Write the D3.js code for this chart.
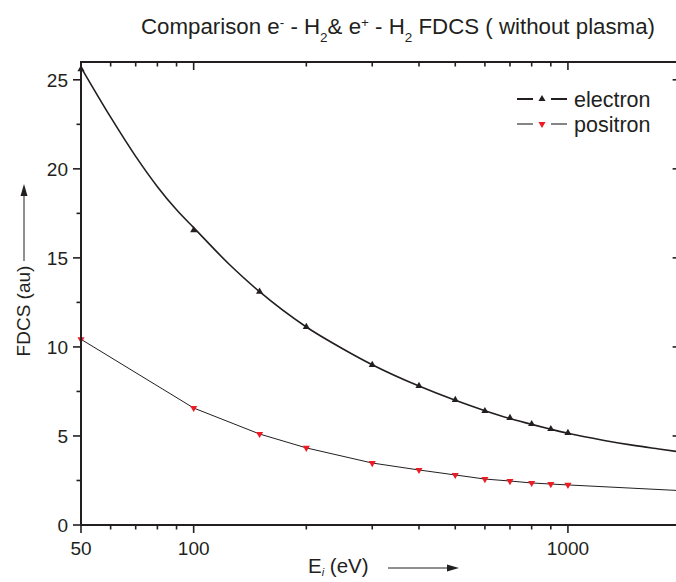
<!DOCTYPE html>
<html>
<head>
<meta charset="utf-8">
<script src="https://cdn.jsdelivr.net/npm/d3@7"></script>
<style>
  html, body { margin: 0; padding: 0; background: #fff; }
  svg { display: block; font-family: "Liberation Sans", Arial, Helvetica, sans-serif; }
</style>
</head>
<body>
<svg id="chart" width="676" height="582"></svg>
<script>
// ---- data ----
const energies = [50, 100, 150, 200, 300, 400, 500, 600, 700, 800, 900, 1000];
const electronPoints = [25.6, 16.55, 13.1, 11.12, 8.99, 7.81, 7.02, 6.40, 6.01, 5.67, 5.39, 5.17];
const positronPoints = [10.43, 6.57, 5.11, 4.33, 3.48, 3.09, 2.81, 2.58, 2.47, 2.36, 2.30, 2.25];

const electronCurveE = [50, 60, 70, 80, 90, 100, 125, 150, 200, 250, 300, 400, 500, 600, 700, 800, 900, 1000, 1250, 1500, 1750, 2000];
const electronCurveV = [25.7, 22.9, 20.7, 19.0, 17.7, 16.7, 14.6, 13.1, 11.12, 9.9, 9.0, 7.8, 7.0, 6.42, 5.98, 5.65, 5.38, 5.15, 4.75, 4.47, 4.27, 4.10];

const positronLineE = [50, 100, 150, 200, 300, 400, 500, 600, 700, 800, 900, 1000, 2000];
const positronLineV = [10.43, 6.57, 5.11, 4.33, 3.48, 3.09, 2.81, 2.58, 2.47, 2.36, 2.30, 2.25, 1.93];

const xMajorTicks = [50, 100, 1000];
const xMinorTicks = [60, 70, 80, 90, 200, 300, 400, 500, 600, 700, 800, 900, 2000];
const yMajorTicks = [0, 5, 10, 15, 20, 25];
const yMinorTicks = [2.5, 7.5, 12.5, 17.5, 22.5];

const seriesNames = ["electron", "positron"];

// ---- layout ----
const svg = d3.select("#chart");
const ink = "#231f20";
const red = "#ed1c24";
const x = d3.scaleLog().domain([50, 2000]).range([81, 680.6]);
const y = d3.scaleLinear().domain([0, 26]).range([525, 62]);
const X0 = x.range()[0], X1 = x.range()[1], Y0 = y.range()[0], Y1 = y.range()[1];

// ---- curves ----
const lineGen = d3.line().x(d => x(d[0])).y(d => y(d[1])).curve(d3.curveMonotoneX);
svg.append("path")
  .datum(electronCurveE.map((e, i) => [e, electronCurveV[i]]))
  .attr("d", lineGen).attr("fill", "none").attr("stroke", ink).attr("stroke-width", 1.6);

const polyGen = d3.line().x(d => x(d[0])).y(d => y(d[1]));
svg.append("path")
  .datum(positronLineE.map((e, i) => [e, positronLineV[i]]))
  .attr("d", polyGen).attr("fill", "none").attr("stroke", ink).attr("stroke-width", 1);

// ---- markers ----
const triUp = d3.symbol().type(d3.symbolTriangle).size(22);
svg.append("g").selectAll("path").data(energies).join("path")
  .attr("d", triUp)
  .attr("transform", (e, i) => `translate(${x(e)},${y(electronPoints[i])})`)
  .attr("fill", ink);
svg.append("g").selectAll("path").data(energies).join("path")
  .attr("d", triUp)
  .attr("transform", (e, i) => `translate(${x(e)},${y(positronPoints[i])}) rotate(180)`)
  .attr("fill", red);

// ---- axes ----
const axes = svg.append("g").attr("stroke", ink).attr("stroke-width", 2);
axes.append("rect").attr("x", X0).attr("y", Y1).attr("width", X1 - X0).attr("height", Y0 - Y1)
  .attr("fill", "none");

const tickG = svg.append("g").attr("stroke", ink).attr("stroke-width", 1.6);
xMajorTicks.forEach(t => {
  tickG.append("line").attr("x1", x(t)).attr("x2", x(t)).attr("y1", Y0).attr("y2", Y0 + 8);
  tickG.append("line").attr("x1", x(t)).attr("x2", x(t)).attr("y1", Y1).attr("y2", Y1 + 8);
});
xMinorTicks.forEach(t => {
  tickG.append("line").attr("x1", x(t)).attr("x2", x(t)).attr("y1", Y0).attr("y2", Y0 + 4.5);
  tickG.append("line").attr("x1", x(t)).attr("x2", x(t)).attr("y1", Y1).attr("y2", Y1 + 4.5);
});
yMajorTicks.forEach(t => {
  tickG.append("line").attr("x1", X0 - 8).attr("x2", X0).attr("y1", y(t)).attr("y2", y(t));
  tickG.append("line").attr("x1", X1 - 8).attr("x2", X1).attr("y1", y(t)).attr("y2", y(t));
});
yMinorTicks.forEach(t => {
  tickG.append("line").attr("x1", X0 - 4.5).attr("x2", X0).attr("y1", y(t)).attr("y2", y(t));
  tickG.append("line").attr("x1", X1 - 4.5).attr("x2", X1).attr("y1", y(t)).attr("y2", y(t));
});

// tick labels
svg.append("g").selectAll("text").data(xMajorTicks).join("text")
  .attr("x", d => x(d)).attr("y", 555).attr("text-anchor", "middle")
  .attr("font-size", 19).attr("fill", ink).text(d => d);
svg.append("g").selectAll("text").data(yMajorTicks).join("text")
  .attr("x", X0 - 13).attr("y", d => y(d) + 7).attr("text-anchor", "end")
  .attr("font-size", 19).attr("fill", ink).text(d => d);

// ---- title ----
const title = svg.append("text").attr("x", 398).attr("y", 34).attr("text-anchor", "middle")
  .attr("font-size", 21.5).attr("fill", ink).attr("textLength", 514).attr("lengthAdjust", "spacingAndGlyphs");
title.append("tspan").text("Comparison e");
title.append("tspan").attr("baseline-shift", "super").attr("font-size", 13).text("-");
title.append("tspan").text(" - H");
title.append("tspan").attr("baseline-shift", "sub").attr("font-size", 13).text("2");
title.append("tspan").text("& e");
title.append("tspan").attr("baseline-shift", "super").attr("font-size", 13).text("+");
title.append("tspan").text(" - H");
title.append("tspan").attr("baseline-shift", "sub").attr("font-size", 13).text("2");
title.append("tspan").text(" FDCS ( without plasma)");

// ---- axis titles ----
const xl = svg.append("text").attr("x", 308).attr("y", 573).attr("font-size", 20.5).attr("fill", ink);
xl.append("tspan").text("E");
xl.append("tspan").attr("dy", 3).attr("font-size", 11).attr("font-style", "italic").text("i");
xl.append("tspan").attr("dy", -3).text(" (eV)");
svg.append("line").attr("x1", 388).attr("x2", 448).attr("y1", 568).attr("y2", 568)
  .attr("stroke", ink).attr("stroke-width", 1);
svg.append("path").attr("d", "M447,564.5 L459,568 L447,571.5 Z").attr("fill", ink);

svg.append("text").attr("transform", "translate(30,311) rotate(-90)")
  .attr("text-anchor", "middle").attr("font-size", 19).attr("fill", ink).text("FDCS (au)");
svg.append("line").attr("x1", 24).attr("x2", 24).attr("y1", 261).attr("y2", 194)
  .attr("stroke", ink).attr("stroke-width", 1);
svg.append("path").attr("d", "M20.5,196 L24,184 L27.5,196 Z").attr("fill", ink);

// ---- legend ----
const legend = svg.append("g");
const legY = [99, 124];
seriesNames.forEach((name, i) => {
  const sw = i === 0 ? 2 : 1.1;
  legend.append("line").attr("x1", 517).attr("x2", 533).attr("y1", legY[i]).attr("y2", legY[i])
    .attr("stroke", ink).attr("stroke-width", sw);
  legend.append("line").attr("x1", 551).attr("x2", 567).attr("y1", legY[i]).attr("y2", legY[i])
    .attr("stroke", ink).attr("stroke-width", sw);
  legend.append("path").attr("d", triUp)
    .attr("transform", `translate(542,${legY[i]})${i === 1 ? " rotate(180)" : ""}`)
    .attr("fill", i === 0 ? ink : red);
  legend.append("text").attr("x", 574).attr("y", legY[i] + 7.5).attr("font-size", 21.5)
    .attr("fill", ink).text(name);
});
</script>
</body>
</html>
